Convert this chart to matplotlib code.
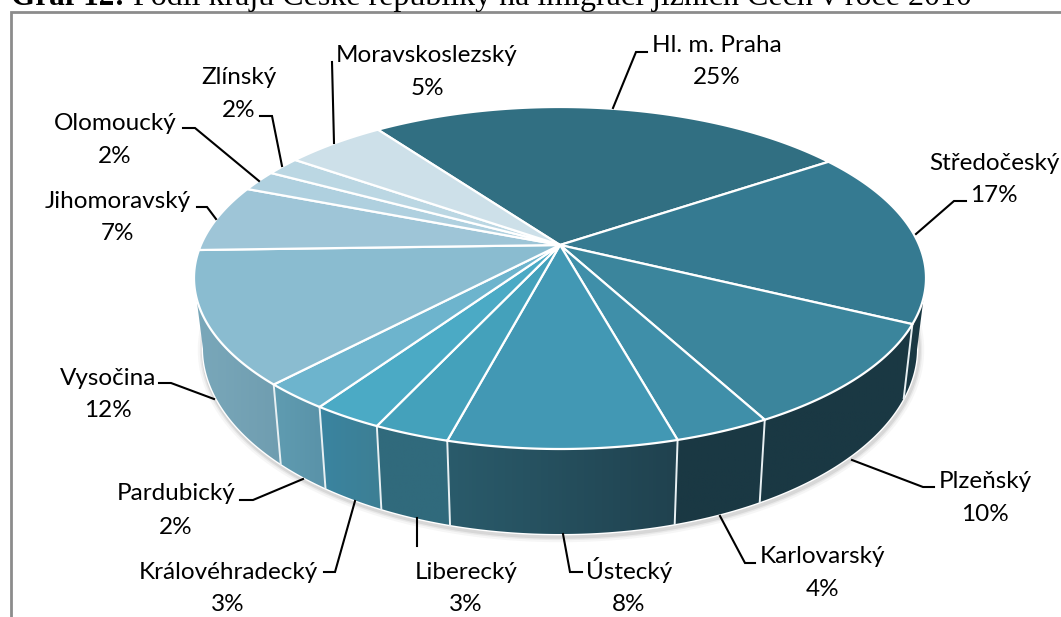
import numpy as np
import matplotlib
matplotlib.use("Agg")
import matplotlib.pyplot as plt
from matplotlib.colors import to_rgb, LinearSegmentedColormap
from matplotlib.patches import Polygon

# data
regions = ["Hl. m. Praha", "Středočeský", "Plzeňský", "Karlovarský", "Ústecký", "Liberecký",
           "Královéhradecký", "Pardubický", "Vysočina", "Jihomoravský", "Olomoucký", "Zlínský",
           "Moravskoslezský"]
percent_labels = [25, 17, 10, 4, 8, 3, 3, 2, 12, 7, 2, 2, 5]
# the printed percents are rounded, these are the slice sizes as measured on the pie
slice_sizes = [25.5, 16.7, 9.9, 3.55, 8.4, 2.8, 2.6, 2.5, 12.5, 6.4, 2.0, 1.8, 5.3]

top_colors = ["#316f82", "#357a91", "#3b859c", "#3f8fa9", "#4298b4", "#44a1bb", "#4baac5",
              "#6db4cd", "#8abcd0", "#9ec5d7", "#afd0df", "#bbd7e3", "#cde0e9"]
wall_left = ["#1a3843", "#1a3843", "#1a3843", "#1a3843", "#2a5b6b", "#306a7c", "#3a84a0",
             "#5f9cb1", "#7aa8ba", "#7aa8ba", "#7aa8ba", "#7aa8ba", "#7aa8ba"]
wall_right = ["#1a3843", "#1a3843", "#1a3843", "#1a3843", "#20424f", "#316a7c", "#3d7f94",
              "#5a92a8", "#6f9db0", "#7aa8ba", "#7aa8ba", "#7aa8ba", "#7aa8ba"]

# label layout in pixels: (x, y of the name line, y of the percent line)
label_pos = [(717, 43, 75), (994, 161, 193), (985, 479, 512), (823, 554, 587), (629, 570, 602),
             (466, 570, 602), (228, 570, 602), (176, 491, 525), (108, 376, 408), (118, 199, 231),
             (115, 121, 154), (239, 75, 108), (427, 53, 86)]
leaders = [[(613, 108), (636, 52), (647, 52)],
           [(916, 234), (954, 201), (966, 201)],
           [(852, 460), (923, 487), (934, 487)],
           [(720, 516), (745, 563), (755, 563)],
           [(563, 534), (570, 572), (582, 572)],
           [(417, 518), (417, 546)],
           [(355, 501), (335, 572), (324, 572)],
           [(303, 479), (253, 500), (240, 500)],
           [(214, 399), (171, 383), (159, 383)],
           [(216, 219), (207, 207), (197, 207)],
           [(259, 181), (195, 128), (183, 128)],
           [(282, 166), (272, 116), (260, 116)],
           [(334, 143), (332, 62)]]

# geometry of the tilted pie, pixels
start_deg = -35.9
cx, cy, rx, ry = 560, 278, 366, 171     # rim of top face
bx, by, brx, bry = 560, 348, 357, 186   # rim of bottom face
t = 0.193                               # how far the perspective moves the pie centre up


def rim(theta):
    # circle angle (clockwise from top) to normalised rim point, with the perspective shift
    u0, v0 = np.sin(theta), np.cos(theta)
    d = 1 + t * v0
    return u0 * np.sqrt(1 - t * t) / d, (v0 + t) / d


def top_xy(theta):
    u, v = rim(theta)
    return cx + rx * u, cy - ry * v


def bottom_xy(theta):
    u, v = rim(theta)
    return bx + brx * u, by - bry * v


# the wall only shows on the front half of the rim
def is_front(theta):
    return rim(theta)[1] <= 0


fig = plt.figure(figsize=(10.61, 6.17), dpi=100)
ax = fig.add_axes([0, 0, 1, 1])

# frame, only left and top are in the crop
ax.plot([10.5, 10.5, 1061], [617, 11.5, 11.5], color="#8c8c8c", lw=2.0, solid_joinstyle="miter", zorder=1)

# title sits half cut off at the top
ax.text(11, 5, "Graf 12:", family="Liberation Serif", weight="bold", fontsize=22.5, va="baseline", zorder=6)
ax.text(133, 5, "Podíl krajů České republiky na imigraci jižních Čech v roce 2010",
        family="Liberation Serif", fontsize=23, va="baseline", zorder=6)

edges = np.radians(start_deg + np.concatenate([[0], np.cumsum(slice_sizes)]) * 360 / sum(slice_sizes))

# soft shadow under the wall
arc = np.linspace(np.radians(95), np.radians(265), 200)
sx, sy = bottom_xy(arc)
for lw, a in [(9, 0.05), (6, 0.08), (4, 0.12)]:
    ax.plot(sx + 1, sy + 2, color="#555555", lw=lw, alpha=a, zorder=2)
ax.plot(sx, sy, color="white", lw=2.0, zorder=2.2)

for i in range(len(slice_sizes)):
    th = np.linspace(edges[i], edges[i + 1], 80)
    th = th[is_front(th)]
    if len(th) < 2:
        continue
    x1, y1 = top_xy(th)
    x2, y2 = bottom_xy(th)
    pts = np.column_stack([np.concatenate([x1, x2[::-1]]), np.concatenate([y1, y2[::-1]])])
    clip = Polygon(pts, closed=True, transform=ax.transData, facecolor="none", edgecolor="none")
    ax.add_patch(clip)
    cmap = LinearSegmentedColormap.from_list("w", [to_rgb(wall_left[i]), to_rgb(wall_right[i])])
    im = ax.imshow(np.linspace(0, 1, 64).reshape(1, -1), cmap=cmap, aspect="auto", zorder=3,
                   extent=[pts[:, 0].min(), pts[:, 0].max(), pts[:, 1].max(), pts[:, 1].min()])
    im.set_clip_path(clip)
ax.set_xlim(0, 1061)
ax.set_ylim(617, 0)
ax.axis("off")

# white lines between the wall pieces
for th in edges[1:-1]:
    if is_front(th):
        x1, y1 = top_xy(th)
        x2, y2 = bottom_xy(th)
        ax.plot([x1, x2], [y1, y2], color="#e8f0f3", lw=1.4, zorder=3.5)

# top face
pcx, pcy = cx, cy - ry * t
for i in range(len(slice_sizes)):
    th = np.linspace(edges[i], edges[i + 1], 80)
    x1, y1 = top_xy(th)
    pts = np.column_stack([np.concatenate([[pcx], x1]), np.concatenate([[pcy], y1])])
    ax.add_patch(Polygon(pts, closed=True, facecolor=top_colors[i], edgecolor="white", lw=1.6,
                         joinstyle="round", zorder=4))

# leader lines and labels
for path in leaders:
    xs, ys = zip(*path)
    ax.plot(xs, ys, color="black", lw=1.5, solid_joinstyle="miter", zorder=5)
for name, pct, (x, y_name, y_pct) in zip(regions, percent_labels, label_pos):
    ax.text(x, y_name + 9, name, family="Lato", fontsize=17.5, ha="center", va="baseline", zorder=6)
    ax.text(x, y_pct + 9, f"{pct}%", family="Lato", fontsize=17.5, ha="center", va="baseline", zorder=6)

fig.savefig("out.png", dpi=100)
